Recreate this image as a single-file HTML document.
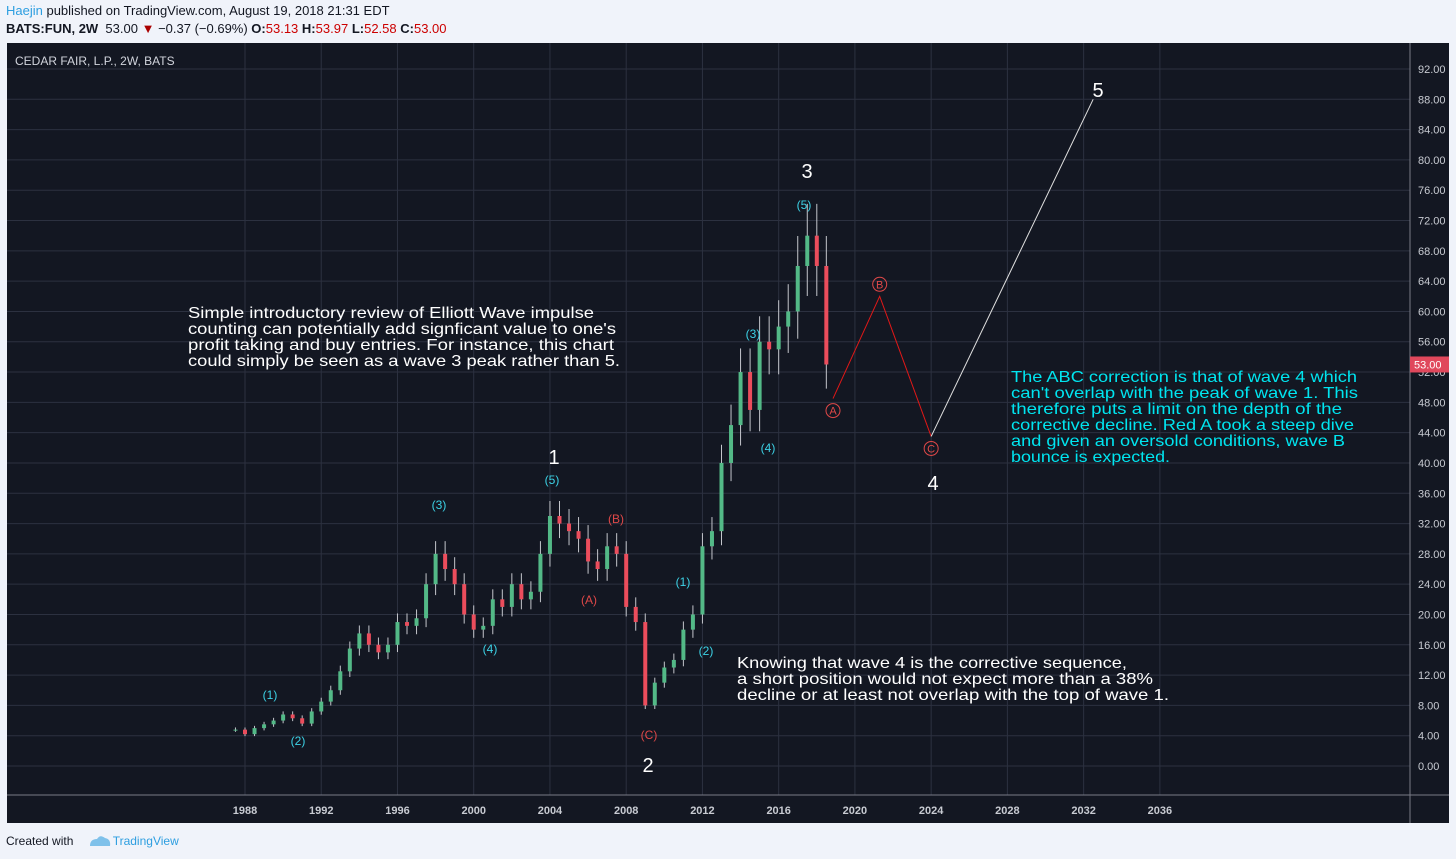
<!DOCTYPE html>
<html><head><meta charset="utf-8"><style>
body{margin:0;width:1456px;height:859px;background:#f0f3fa;font-family:"Liberation Sans",sans-serif;overflow:hidden;position:relative}
.hdr{position:absolute;left:6px;font-size:13px;color:#131722;white-space:nowrap}
</style></head><body>
<div class="hdr" style="top:3px"><span style="color:#2d9ee0">Haejin</span> published on TradingView.com, August 19, 2018 21:31 EDT</div>
<div class="hdr" style="top:21px"><b>BATS:FUN, 2W</b>&nbsp; 53.00 <span style="color:#a00">▼</span> −0.37 (−0.69%) <b>O:</b><span style="color:#c00">53.13</span> <b>H:</b><span style="color:#c00">53.97</span> <b>L:</b><span style="color:#c00">52.58</span> <b>C:</b><span style="color:#c00">53.00</span></div>
<svg id="chart" width="1456" height="859" style="position:absolute;left:0;top:0">
<rect x="7" y="43" width="1442" height="780" fill="#131722"/>
<g id="grid"></g><g id="candles"></g><g id="waves"></g><g id="axes"></g><g id="notes"></g>
</svg>
<div style="position:absolute;left:6px;top:834px;font-size:12px;color:#131722">Created with <span style="color:#2d9ee0;margin-left:36px">TradingView</span></div>
<svg width="24" height="14" style="position:absolute;left:88px;top:834px"><path d="M2 12 Q2 5 9 5 Q12 0 17 4 Q23 5 22 12Z" fill="#7fc1ea"/></svg>
<script>
const priceTicks=[0,4,8,12,16,20,24,28,32,36,40,44,48,52,56,60,64,68,72,76,80,84,88,92];
const yearTicks=[1988,1992,1996,2000,2004,2008,2012,2016,2020,2024,2028,2032,2036];
const times=[1987.5,1988,1988.5,1989,1989.5,1990,1990.5,1991,1991.5,1992,1992.5,1993,1993.5,1994,1994.5,1995,1995.5,1996,1996.5,1997,1997.5,1998,1998.5,1999,1999.5,2000,2000.5,2001,2001.5,2002,2002.5,2003,2003.5,2004,2004.5,2005,2005.5,2006,2006.5,2007,2007.5,2008,2008.5,2009,2009.5,2010,2010.5,2011,2011.5,2012,2012.5,2013,2013.5,2014,2014.5,2015,2015.5,2016,2016.5,2017,2017.5,2018,2018.5];
const closes=[4.8,4.2,5.0,5.5,6.0,6.8,6.3,5.6,7.2,8.5,10,12.5,15.5,17.5,16,15,16,19,18.5,19.5,24,28,26,24,20,18,18.5,22,21,24,22,23,28,33,32,31,30,27,26,29,28,21,19,8,11,13,14,18,20,29,31,40,45,52,47,56,55,58,60,66,70,66,53];
const waveTimes=[2018.85,2021.3,2024.0,2032.5];
const wavePrices=[48.5,62,43.5,88];
const NS="http://www.w3.org/2000/svg";
const X=t=>245+(t-1988)*19.06, Y=p=>766-p*7.576;
function mk(par,tag,at){const e=document.createElementNS(NS,tag);for(const k in at)e.setAttribute(k,at[k]);document.getElementById(par).appendChild(e);return e;}
priceTicks.forEach(p=>{const l=mk('grid','line',{x1:7,x2:1410,y1:Y(p),y2:Y(p),stroke:'#2c3140'});


const t=mk('axes','text',{x:1418,y:Y(p)+4,fill:'#c8cbd2','font-size':11});t.textContent=p.toFixed(2);

});
yearTicks.forEach(y=>{const l=mk('grid','line',{x1:X(y),x2:X(y),y1:43,y2:795,stroke:'#2c3140'});


const t=mk('axes','text',{x:X(y),y:814,fill:'#c8cbd2','font-size':11,'font-weight':'bold','text-anchor':'middle'});t.textContent=y;

});
let a=mk('axes','line',{x1:1410,x2:1410,y1:43,y2:823,stroke:'#787b86'});
a=mk('axes','line',{x1:7,x2:1449,y1:795,y2:795,stroke:'#787b86'});
let pr=mk('axes','rect',{x:1410,y:Y(53)-8,width:39,height:16,fill:'#e0485c'});
let pt=mk('axes','text',{x:1414,y:Y(53)+4,fill:'#fff','font-size':11});pt.textContent='53.00';
closes.forEach((c,i)=>{const o=i?closes[i-1]:c;const up=c>=o;const hi=Math.max(o,c)*1.06,lo=Math.min(o,c)*0.94;const x=X(times[i]);
const w=mk('candles','line',{x1:x,x2:x,y1:Y(hi),y2:Y(lo),stroke:'#c4c6cc','stroke-width':1});


const b=mk('candles','rect',{x:x-2,y:Y(Math.max(o,c)),width:4,height:Math.max(1,Math.abs(Y(o)-Y(c))),fill:up?'#53b987':'#eb4d5c'});

});
const wp=waveTimes.map((t,i)=>[X(t),Y(wavePrices[i])]);
let p1=mk('waves','polyline',{points:wp.slice(0,3).map(p=>p.join(',')).join(' '),fill:'none',stroke:'#e01818','stroke-width':1});
let p2=mk('waves','line',{x1:wp[2][0],y1:wp[2][1],x2:wp[3][0],y2:wp[3][1],stroke:'#e0e0e0','stroke-width':1});
[['A',0,12],['B',1,-12],['C',2,12]].forEach(([s,i,dy])=>{const cx=wp[i][0],cy=wp[i][1]+dy;
const c=mk('waves','circle',{cx,cy,r:7,fill:'none',stroke:'#e04848'});
const t=mk('waves','text',{x:cx,y:cy+4,fill:'#e04848','font-size':11,'text-anchor':'middle'});t.textContent=s;});
function lbl(txt,x,y,col,fs,name){const t=mk('notes','text',{x,y,fill:col,'font-size':fs,'text-anchor':'middle'});t.textContent=txt;

}
[['(1)',270,699],['(2)',298,745],['(3)',439,509],['(4)',490,653],['(5)',552,484],['(1)',683,586],['(2)',706,655],['(3)',753,338],['(4)',768,452],['(5)',804,209]].forEach(d=>lbl(d[0],d[1],d[2],'#3cd2e6',12,'subwave-label'));
[['(A)',589,604],['(B)',616,523],['(C)',649,739]].forEach(d=>lbl(d[0],d[1],d[2],'#e04848',12,'correction-label'));
[['1',554,464],['2',648,772],['3',807,178],['4',933,490],['5',1098,97]].forEach(d=>lbl(d[0],d[1],d[2],'#fff',20,'major-wave-label'));
let tt=mk('notes','text',{x:15,y:65,fill:'#d1d4dc','font-size':12});tt.textContent='CEDAR FAIR, L.P., 2W, BATS';
function para(lines,x,y0,col,name){lines.forEach((l,i)=>{const t=mk('notes','text',{x,y:y0+i*16,fill:col,'font-size':16,textLength:l[1],lengthAdjust:'spacingAndGlyphs'});t.textContent=l[0];

});}
para([["Simple introductory review of Elliott Wave impulse",406],["counting can potentially add signficant value to one's",428],["profit taking and buy entries. For instance, this chart",426],["could simply be seen as a wave 3 peak rather than 5.",432]],188,318,'#fff','intro-note');
para([["The ABC correction is that of wave 4 which",346],["can't overlap with the peak of wave 1. This",347],["therefore puts a limit on the depth of the",331],["corrective decline. Red A took a steep dive",343],["and given an oversold conditions, wave B",334],["bounce is expected.",159]],1011,382,'#00e5f0','abc-note');
para([["Knowing that wave 4 is the corrective sequence,",390],["a short position would not expect more than a 38%",416],["decline or at least not overlap with the top of wave 1.",432]],737,668,'#fff','short-position-note');
</script>
</body></html>
